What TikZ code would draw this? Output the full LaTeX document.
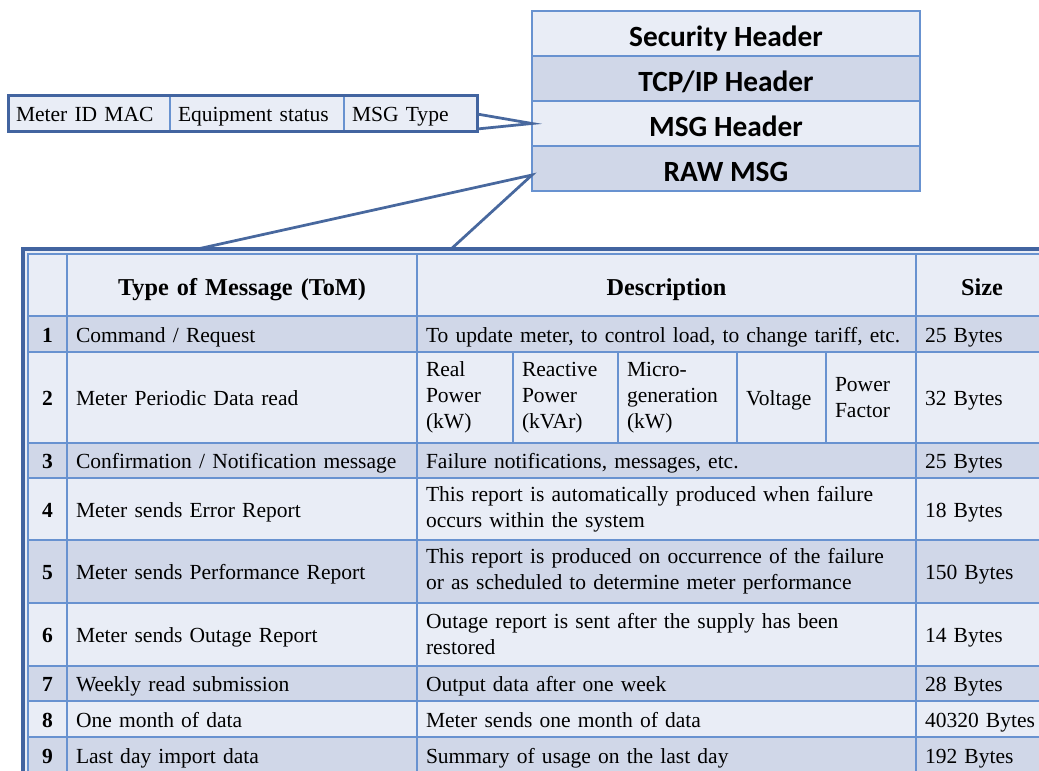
\documentclass[tikz,border=0pt]{standalone}
\usepackage{fontspec}
\setmainfont{Liberation Serif}
\newfontfamily\calibri{Carlito}
\usepackage{xcolor}
\usepackage{tikz}
\usetikzlibrary{positioning}
\definecolor{CellLight}{RGB}{233, 237, 246}
\definecolor{CellDark}{RGB}{208, 215, 232}
\definecolor{GridBlue}{RGB}{104, 146, 208}
\definecolor{FrameBlue}{RGB}{66, 100, 160}
\definecolor{LinkBlue}{RGB}{72, 104, 158}
\tikzstyle{layer} = [rectangle, draw=GridBlue, line width=0.04cm, minimum width=7.76cm, minimum height=0.9cm, outer sep=0pt, text height=0.53cm, text depth=0cm, font=\calibri\bfseries\fontsize{16.7}{20}\selectfont]
\tikzstyle{layerlight} = [layer, fill=CellLight]
\tikzstyle{layerdark} = [layer, fill=CellDark]
\tikzstyle{cell} = [rectangle, draw=GridBlue, line width=0.035cm, anchor=north west, outer sep=0pt, inner xsep=0.18cm, inner ysep=0cm, align=left, font=\fontsize{12.25}{14.8}\selectfont]
\tikzstyle{lightcell} = [cell, fill=CellLight]
\tikzstyle{darkcell} = [cell, fill=CellDark]
\tikzstyle{oneline} = [text height=0.4cm, text depth=0.08cm]
\tikzstyle{numcol} = [text width=0.42cm, align=center, font=\bfseries\fontsize{12.25}{14.8}\selectfont]
\tikzstyle{tomcol} = [text width=6.64cm]
\tikzstyle{desccol} = [text width=9.62cm]
\tikzstyle{sizecol} = [text width=2.5cm]
\tikzstyle{headcol} = [align=center, text height=0.5cm, text depth=0.06cm, font=\bfseries\fontsize{13.8}{16}\selectfont]
\tikzstyle{link} = [draw=LinkBlue, line width=0.055cm]

\begin{document}
\begin{tikzpicture}
\useasboundingbox (0,0) rectangle (20.78,-15.42);
\clip (0,0) rectangle (20.78,-15.42);

% Pile des en-tetes
\node (sec) [layerlight] at (14.52,-0.67) {Security Header};
\node (tcp) [layerdark, below=0cm of sec] {TCP/IP Header};
\node (msg) [layerlight, below=0cm of tcp] {MSG Header};
\node (raw) [layerdark, below=0cm of msg] {RAW MSG};

% Champs du MSG Header
\node (mid) [lightcell, oneline, inner xsep=0.16cm, text width=2.92cm, minimum height=0.72cm] at (0.16,-1.92) {Meter ID MAC};
\node (equip) [lightcell, oneline, inner xsep=0.16cm, text width=3.16cm, minimum height=0.72cm] at (3.40,-1.92) {Equipment status};
\node (mtype) [lightcell, oneline, inner xsep=0.16cm, text width=2.34cm, minimum height=0.72cm] at (6.88,-1.92) {MSG Type};
\draw [FrameBlue, line width=0.06cm] (mid.north west) rectangle (mtype.south east);
\draw [link] (mtype.east) -- (msg.west) -- ([yshift=-0.3cm]mtype.east);

% Liaison vers le tableau
\coordinate (t1) at (3.86,-5.0);
\coordinate (t2) at (9.0,-5.0);
\draw [link] (t1) -- ([yshift=-0.13cm]raw.west) -- (t2);

% Cadre du tableau
\filldraw [fill=CellLight, draw=FrameBlue, line width=0.07cm] (0.46,-4.98) rectangle (21.6,-16.0);

% En-tete
\node (hnum) [lightcell, numcol, minimum height=1.24cm] at (0.56,-5.08) {};
\node (htom) [lightcell, tomcol, headcol, minimum height=1.24cm] at (1.34,-5.08) {Type of Message (ToM)};
\node (hdesc) [lightcell, desccol, headcol, minimum height=1.24cm] at (8.34,-5.08) {Description};
\node (hsize) [lightcell, text width=2.28cm, headcol, minimum height=1.24cm] at (18.32,-5.08) {Size};

% Ligne 1
\node (n1) [darkcell, numcol, oneline, minimum height=0.72cm] at (0.56,-6.32) {1};
\node (tom1) [darkcell, tomcol, oneline, minimum height=0.72cm] at (1.34,-6.32) {Command / Request};
\node (desc1) [darkcell, desccol, oneline, minimum height=0.72cm] at (8.34,-6.32) {To update meter, to control load, to change tariff, etc.};
\node (size1) [darkcell, sizecol, oneline, minimum height=0.72cm] at (18.32,-6.32) {25 Bytes};

% Ligne 2
\node (n2) [lightcell, numcol, oneline, minimum height=1.82cm] at (0.56,-7.04) {2};
\node (tom2) [lightcell, tomcol, oneline, minimum height=1.82cm] at (1.34,-7.04) {Meter Periodic Data read};
\node (real) [lightcell, text width=1.56cm, minimum height=1.82cm] at (8.34,-7.04) {Real\\Power\\(kW)};
\node (react) [lightcell, text width=1.74cm, minimum height=1.82cm] at (10.26,-7.04) {Reactive\\Power\\(kVAr)};
\node (micro) [lightcell, text width=2.02cm, minimum height=1.82cm] at (12.36,-7.04) {Micro-\\generation\\(kW)};
\node (volt) [lightcell, oneline, text width=1.42cm, minimum height=1.82cm] at (14.74,-7.04) {Voltage};
\node (pf) [lightcell, text width=1.44cm, minimum height=1.82cm] at (16.52,-7.04) {Power\\Factor};
\node (size2) [lightcell, sizecol, oneline, minimum height=1.82cm] at (18.32,-7.04) {32 Bytes};

% Ligne 3
\node (n3) [darkcell, numcol, oneline, minimum height=0.70cm] at (0.56,-8.86) {3};
\node (tom3) [darkcell, tomcol, oneline, minimum height=0.70cm] at (1.34,-8.86) {Confirmation / Notification message};
\node (desc3) [darkcell, desccol, oneline, minimum height=0.70cm] at (8.34,-8.86) {Failure notifications, messages, etc.};
\node (size3) [darkcell, sizecol, oneline, minimum height=0.70cm] at (18.32,-8.86) {25 Bytes};

% Ligne 4
\node (n4) [lightcell, numcol, oneline, minimum height=1.24cm] at (0.56,-9.56) {4};
\node (tom4) [lightcell, tomcol, oneline, minimum height=1.24cm] at (1.34,-9.56) {Meter sends Error Report};
\node (desc4) [lightcell, desccol, minimum height=1.24cm] at (8.34,-9.56) {This report is automatically produced when failure\\occurs within the system};
\node (size4) [lightcell, sizecol, oneline, minimum height=1.24cm] at (18.32,-9.56) {18 Bytes};

% Ligne 5
\node (n5) [darkcell, numcol, oneline, minimum height=1.26cm] at (0.56,-10.80) {5};
\node (tom5) [darkcell, tomcol, oneline, minimum height=1.26cm] at (1.34,-10.80) {Meter sends Performance Report};
\node (desc5) [darkcell, desccol, minimum height=1.26cm] at (8.34,-10.80) {This report is produced on occurrence of the failure\\or as scheduled to determine meter performance};
\node (size5) [darkcell, sizecol, oneline, minimum height=1.26cm] at (18.32,-10.80) {150 Bytes};

% Ligne 6
\node (n6) [lightcell, numcol, oneline, minimum height=1.26cm] at (0.56,-12.06) {6};
\node (tom6) [lightcell, tomcol, oneline, minimum height=1.26cm] at (1.34,-12.06) {Meter sends Outage Report};
\node (desc6) [lightcell, desccol, minimum height=1.26cm] at (8.34,-12.06) {Outage report is sent after the supply has been\\restored};
\node (size6) [lightcell, sizecol, oneline, minimum height=1.26cm] at (18.32,-12.06) {14 Bytes};

% Ligne 7
\node (n7) [darkcell, numcol, oneline, minimum height=0.70cm] at (0.56,-13.32) {7};
\node (tom7) [darkcell, tomcol, oneline, minimum height=0.70cm] at (1.34,-13.32) {Weekly read submission};
\node (desc7) [darkcell, desccol, oneline, minimum height=0.70cm] at (8.34,-13.32) {Output data after one week};
\node (size7) [darkcell, sizecol, oneline, minimum height=0.70cm] at (18.32,-13.32) {28 Bytes};

% Ligne 8
\node (n8) [lightcell, numcol, oneline, minimum height=0.72cm] at (0.56,-14.02) {8};
\node (tom8) [lightcell, tomcol, oneline, minimum height=0.72cm] at (1.34,-14.02) {One month of data};
\node (desc8) [lightcell, desccol, oneline, minimum height=0.72cm] at (8.34,-14.02) {Meter sends one month of data};
\node (size8) [lightcell, sizecol, oneline, minimum height=0.72cm] at (18.32,-14.02) {40320 Bytes};

% Ligne 9
\node (n9) [darkcell, numcol, oneline, minimum height=0.72cm] at (0.56,-14.74) {9};
\node (tom9) [darkcell, tomcol, oneline, minimum height=0.72cm] at (1.34,-14.74) {Last day import data};
\node (desc9) [darkcell, desccol, oneline, minimum height=0.72cm] at (8.34,-14.74) {Summary of usage on the last day};
\node (size9) [darkcell, sizecol, oneline, minimum height=0.72cm] at (18.32,-14.74) {192 Bytes};

\end{tikzpicture}
\end{document}
